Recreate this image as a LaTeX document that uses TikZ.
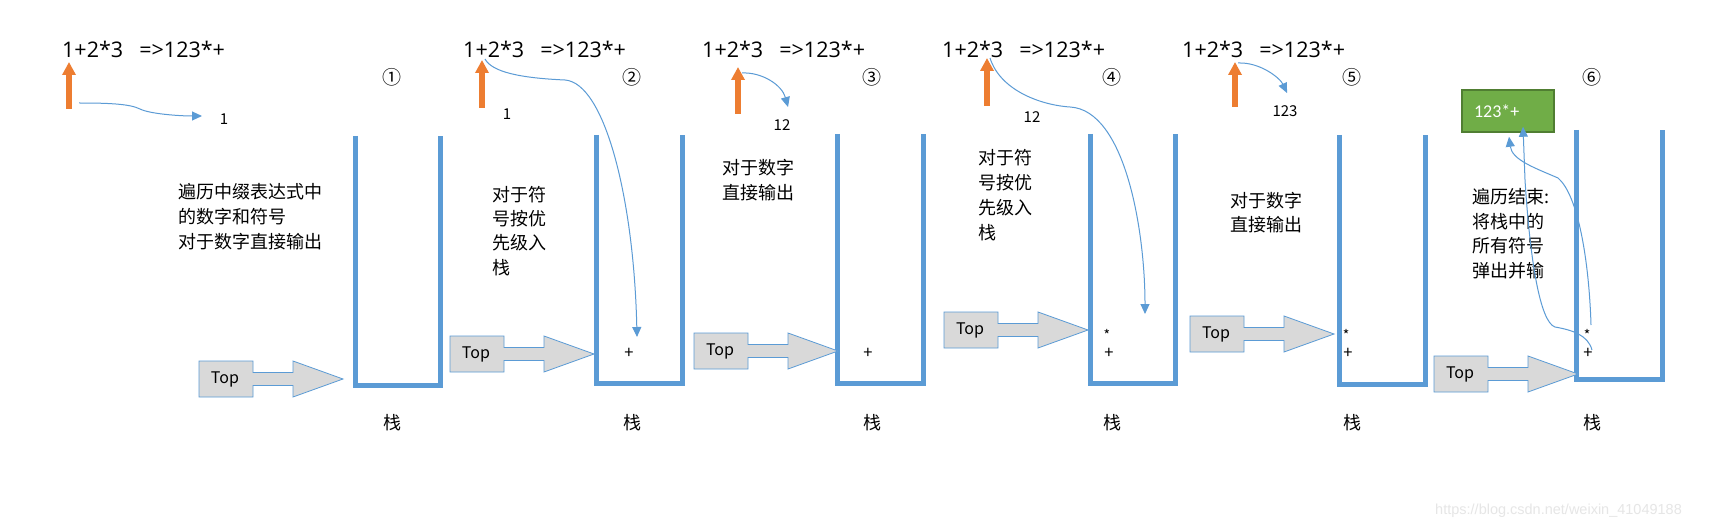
\documentclass[tikz,border=0pt]{standalone}
\usepackage{fontspec}
\setmainfont{Noto Sans CJK SC}
\newfontfamily\carlito{Carlito}
\newfontfamily\wmfont{Liberation Sans}
\newfontfamily\exprfont{Open Sans}
\usetikzlibrary{arrows.meta,calc}
\definecolor{sblue}{HTML}{5B9BD5}
\definecolor{oarr}{HTML}{ED7D31}
\definecolor{cgray}{HTML}{D9D9D9}
\definecolor{gfill}{HTML}{70AD47}
\definecolor{gline}{HTML}{507E32}
\definecolor{wmark}{HTML}{E6E6E6}
\newcommand\TopCallout[2]{%
  \draw[callout] (#1,#2) ++(0,-18) -- ++(54,0) -- ++(0,11.5) -- ++(40,0) -- ++(0,-11.5)
    -- ++(50,18) -- ++(-50,18) -- ++(0,-11.5) -- ++(-40,0) -- ++(0,11.5) -- ++(-54,0) -- cycle;}
\begin{document}
\begin{tikzpicture}[x=1pt,y=-1pt,
  expr/.style={anchor=west,inner sep=0pt,font=\exprfont\fontsize{21.5}{24}\selectfont},
  stackwall/.style={draw=sblue,line width=5pt,line join=miter},
  callout/.style={draw=sblue,line width=0.8pt,fill=cgray,line join=miter},
  toptext/.style={inner sep=0pt,font=\fontsize{16}{18}\selectfont},
  oarrow/.style={draw=oarr,line width=6pt,-{Triangle[width=13pt,length=13pt]}},
  conn/.style={draw=sblue,line width=1pt,-{Triangle[width=9pt,length=10pt]}},
  outlbl/.style={inner sep=0pt,font=\fontsize{15}{18}\selectfont},
  circnum/.style={inner sep=0pt,font=\fontsize{19}{22}\selectfont},
  cn/.style={anchor=west,inner sep=0pt,font=\fontsize{18}{25}\selectfont},
  stk/.style={inner sep=0pt,font=\fontsize{18}{22}\selectfont},
  sym/.style={inner sep=0pt,font=\fontsize{14}{16}\selectfont},
  plus/.style={inner sep=0pt,font=\fontsize{16.5}{18}\selectfont},
  greenbox/.style={draw=gline,line width=1.5pt,fill=gfill,text=white,
    minimum width=92pt,minimum height=42pt,text width=68pt,align=left,
    inner xsep=12pt,font=\carlito\fontsize{18}{20}\selectfont},
  wm/.style={anchor=west,inner sep=0pt,text=wmark,font=\wmfont\fontsize{14.5}{16}\selectfont}]
\useasboundingbox (0,0) rectangle (1715,529);
\fill[white] (0,0) rectangle (1715,529);

% expressions
\node[expr] (e1) at (62,49) {1+2*3\hspace{0.75em}=>123*+};
\node[expr] (e2) at (463,49) {1+2*3\hspace{0.75em}=>123*+};
\node[expr] (e3) at (702,49) {1+2*3\hspace{0.75em}=>123*+};
\node[expr] (e4) at (942,49) {1+2*3\hspace{0.75em}=>123*+};
\node[expr] (e5) at (1182,49) {1+2*3\hspace{0.75em}=>123*+};

% circled numbers
\node[circnum] (n1) at (392,77) {①};
\node[circnum] (n2) at (632,77) {②};
\node[circnum] (n3) at (872,77) {③};
\node[circnum] (n4) at (1112,77) {④};
\node[circnum] (n5) at (1352,77) {⑤};
\node[circnum] (n6) at (1592,77) {⑥};

% orange pointer arrows
\coordinate (o1b) at (69,109);  \coordinate (o1t) at (69,62);
\coordinate (o2b) at (482,108); \coordinate (o2t) at (482,60);
\coordinate (o3b) at (738,114); \coordinate (o3t) at (738,67);
\coordinate (o4b) at (987,106); \coordinate (o4t) at (987,58);
\coordinate (o5b) at (1235,107);\coordinate (o5t) at (1235,62);
\draw[oarrow] (o1b) -- (o1t);
\draw[oarrow] (o2b) -- (o2t);
\draw[oarrow] (o3b) -- (o3t);
\draw[oarrow] (o4b) -- (o4t);
\draw[oarrow] (o5b) -- (o5t);

% output labels
\node[outlbl] (l1) at (224,119) {1};
\node[outlbl] (l2) at (507,114) {1};
\node[outlbl] (l3) at (782,125) {12};
\node[outlbl] (l4) at (1032,117) {12};
\node[outlbl] (l5) at (1285,111) {123};

% stacks
\draw[stackwall] (355.5,136) -- (355.5,385.5) -- (440.5,385.5) -- (440.5,136);
\draw[stackwall] (596.5,135) -- (596.5,383.5) -- (682.5,383.5) -- (682.5,135);
\draw[stackwall] (837.5,134) -- (837.5,383.5) -- (923,383.5) -- (923,134);
\draw[stackwall] (1090.5,134) -- (1090.5,383.5) -- (1175.5,383.5) -- (1175.5,134);
\draw[stackwall] (1339.5,135) -- (1339.5,384.5) -- (1425.5,384.5) -- (1425.5,135);
\draw[stackwall] (1576.5,130) -- (1576.5,379.5) -- (1662.5,379.5) -- (1662.5,130);

\node[stk] (s1) at (392,423) {栈};
\node[stk] (s2) at (632,423) {栈};
\node[stk] (s3) at (872,423) {栈};
\node[stk] (s4) at (1112,423) {栈};
\node[stk] (s5) at (1352,423) {栈};
\node[stk] (s6) at (1592,423) {栈};

% stack contents
\node[plus] (p2) at (629,353) {+};
\node[plus] (p3) at (868,353) {+};
\node[sym] (m4) at (1107,335) {*};
\node[plus] (p4) at (1109,353) {+};
\node[sym] (m5) at (1346,335) {*};
\node[plus] (p5) at (1348,353) {+};
\node[sym] (m6) at (1587,335) {*};
\node[plus] (p6) at (1588,353) {+};

% Top callouts
\TopCallout{199}{379}
\TopCallout{450}{354}
\TopCallout{694}{351}
\TopCallout{944}{330}
\TopCallout{1190}{334}
\TopCallout{1434}{374}
\node[toptext] (t1) at (225,379) {Top};
\node[toptext] (t2) at (476,354) {Top};
\node[toptext] (t3) at (720,351) {Top};
\node[toptext] (t4) at (970,330) {Top};
\node[toptext] (t5) at (1216,334) {Top};
\node[toptext] (t6) at (1460,374) {Top};

% description texts
\node[cn] (a1) at (178,192) {遍历中缀表达式中};
\node[cn] (a2) at (178,217) {的数字和符号};
\node[cn] (a3) at (178,242) {对于数字直接输出};

\node[cn] (b1) at (492,195) {对于符};
\node[cn] (b2) at (492,219) {号按优};
\node[cn] (b3) at (492,243) {先级入};
\node[cn] (b4) at (492,268) {栈};

\node[cn] (c1) at (722,168) {对于数字};
\node[cn] (c2) at (722,193) {直接输出};

\node[cn] (d1) at (978,158) {对于符};
\node[cn] (d2) at (978,183) {号按优};
\node[cn] (d3) at (978,208) {先级入};
\node[cn] (d4) at (978,233) {栈};

\node[cn] (f1) at (1230,201) {对于数字};
\node[cn] (f2) at (1230,225) {直接输出};

\node[cn] (h1) at (1472,197) {遍历结束:};
\node[cn] (h2) at (1472,222) {将栈中的};
\node[cn] (h3) at (1472,246) {所有符号};
\node[cn] (h4) at (1472,271) {弹出并输};

% result box
\node[greenbox] (g) at (1508,111) {123*+};

% blue connectors
\coordinate (k1s) at (79,103);   \coordinate (k1e) at (202,116);
\coordinate (k2s) at (485,59);   \coordinate (k2e) at (637,337);
\coordinate (k3s) at (742,73);   \coordinate (k3e) at (788,107);
\coordinate (k4s) at (990,58);   \coordinate (k4e) at (1145,314);
\coordinate (k5s) at (1238,63);  \coordinate (k5e) at (1287,93);
\coordinate (k6s) at (1591,325);
\coordinate (k7s) at (1592,350);
\draw[conn] (k1s) .. controls (110,103) and (130,104) .. (140,109)
  .. controls (150,114) and (180,116) .. (k1e);
\draw[conn] (k2s) .. controls (492,72) and (520,78) .. (565,80)
  .. controls (605,83) and (634,200) .. (k2e);
\draw[conn] (k3s) .. controls (762,72) and (782,85) .. (k3e);
\draw[conn] (k4s) .. controls (1000,90) and (1040,105) .. (1070,107)
  .. controls (1125,110) and (1145,230) .. (k4e);
\draw[conn] (k5s) .. controls (1260,62) and (1280,78) .. (k5e);
\draw[conn] (k6s) .. controls (1589,260) and (1578,195) .. (1558,178)
  .. controls (1535,168) and (1512,160) .. ($(g.south)+(1,4)$);
\draw[conn] (k7s) .. controls (1588,335) and (1572,330) .. (1555,327)
  .. controls (1540,322) and (1530,260) .. (1525,180) -- ($(g.south)+(15,-6)$);

% watermark
\node[wm] (w) at (1435,511) {https://blog.csdn.net/weixin\_41049188};
\end{tikzpicture}
\end{document}
